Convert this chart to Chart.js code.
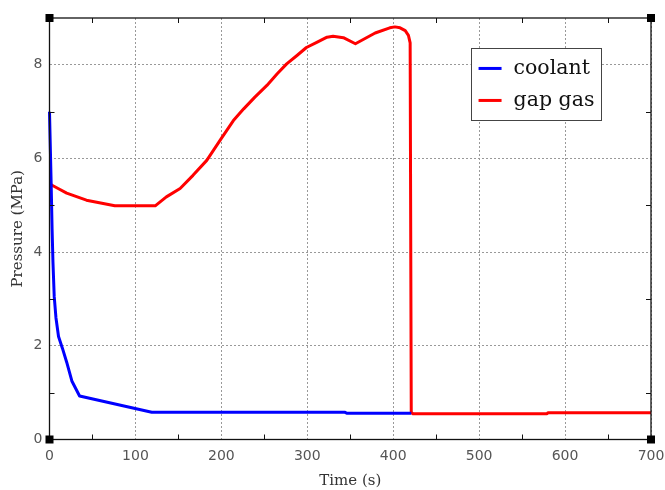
<!DOCTYPE html>
<html>
<head>
<meta charset="utf-8">
<script src="https://cdn.jsdelivr.net/npm/chart.js@4"></script>
<style>
html,body{margin:0;padding:0;background:#fff;}
#wrap{width:665px;height:490px;position:relative;}
</style>
</head>
<body>
<div id="wrap"><canvas id="c" width="665" height="490"></canvas></div>
<script>
// ---- data ----
const coolantLabel = "coolant";
const gapLabel = "gap gas";
const coolantTime = [0, 1, 2, 3, 4, 5.5, 7.5, 10.5, 15, 20, 26, 35, 119, 344, 346, 421];
const coolantPressure = [7.0, 6.2, 5.4, 4.5, 3.8, 3.05, 2.6, 2.2, 1.95, 1.65, 1.25, 0.93, 0.58, 0.58, 0.56, 0.56];
const gapTime = [0, 3, 10, 20, 43, 76, 123, 136, 152, 167, 183, 200, 214, 226, 239, 253, 265, 276, 288, 299, 311, 323, 330, 342, 356, 379, 396, 402, 408, 414, 417.7, 419.7, 421, 423, 579, 580, 700];
const gapPressure = [5.45, 5.43, 5.36, 5.26, 5.11, 4.99, 4.99, 5.18, 5.36, 5.64, 5.96, 6.43, 6.81, 7.06, 7.31, 7.56, 7.81, 8.02, 8.2, 8.37, 8.48, 8.59, 8.61, 8.58, 8.45, 8.68, 8.79, 8.81, 8.79, 8.73, 8.63, 8.47, 0.58, 0.55, 0.55, 0.57, 0.57];
const xTicks = [0, 100, 200, 300, 400, 500, 600, 700];
const yTicks = [0, 2, 4, 6, 8];
const xMinorTicks = [50, 150, 250, 350, 450, 550, 650];
const yMinorTicks = [1, 3, 5, 7];
const xRange = [0, 700];
const yRange = [0, 9];
const xTitle = "Time (s)";
const yTitle = "Pressure (MPa)";

const toPts = (xs, ys) => xs.map((x, i) => ({x: x, y: ys[i]}));

const framePlugin = {
  id: 'frame',
  afterDraw(chart) {
    const ctx = chart.ctx;
    const a = chart.chartArea;
    const xs = chart.scales.x, ys = chart.scales.y;
    ctx.save();
    ctx.strokeStyle = '#111';
    ctx.lineWidth = 1.3;
    ctx.strokeRect(a.left, a.top, a.right - a.left, a.bottom - a.top);
    // minor ticks, inward on all four sides
    const tl = 5;
    ctx.lineWidth = 1;
    ctx.beginPath();
    xMinorTicks.forEach(v => {
      const p = Math.round(xs.getPixelForValue(v)) + 0.5;
      ctx.moveTo(p, a.bottom); ctx.lineTo(p, a.bottom - tl);
      ctx.moveTo(p, a.top); ctx.lineTo(p, a.top + tl);
    });
    yMinorTicks.forEach(v => {
      const p = Math.round(ys.getPixelForValue(v)) + 0.5;
      ctx.moveTo(a.left, p); ctx.lineTo(a.left + tl, p);
      ctx.moveTo(a.right, p); ctx.lineTo(a.right - tl, p);
    });
    ctx.stroke();
    // corner squares
    ctx.fillStyle = '#000';
    const s = 8;
    [[a.left, a.top], [a.right, a.top], [a.left, a.bottom], [a.right, a.bottom]].forEach(([x, y]) => {
      ctx.fillRect(x - s / 2, y - s / 2, s, s);
    });
    // legend box
    const lx = xs.getPixelForValue(490), ly = ys.getPixelForValue(8.35);
    const bw = 130, bh = 72;
    ctx.fillStyle = '#fff';
    ctx.fillRect(lx, ly, bw, bh);
    ctx.strokeStyle = '#444';
    ctx.lineWidth = 1;
    ctx.strokeRect(Math.round(lx) + 0.5, Math.round(ly) + 0.5, bw, bh);
    ctx.font = '20.5px "DejaVu Serif"';
    ctx.textBaseline = 'middle';
    ctx.textAlign = 'left';
    chart.data.datasets.forEach((d, i) => {
      const yy = ly + 20 + i * 32;
      ctx.strokeStyle = d.borderColor;
      ctx.lineWidth = 3;
      ctx.beginPath();
      ctx.moveTo(lx + 8, yy); ctx.lineTo(lx + 31, yy);
      ctx.stroke();
      ctx.fillStyle = '#111';
      ctx.fillText(d.label, lx + 43, yy);
    });
    ctx.restore();
  }
};

new Chart(document.getElementById('c'), {
  type: 'line',
  data: {
    datasets: [
      {label: coolantLabel, data: toPts(coolantTime, coolantPressure), borderColor: '#0000ff', backgroundColor: '#0000ff', borderWidth: 3, pointRadius: 0, tension: 0, borderDash: [1000, 0], clip: 4, borderJoinStyle: 'round'},
      {label: gapLabel, data: toPts(gapTime, gapPressure), borderColor: '#ff0000', backgroundColor: '#ff0000', borderWidth: 3, pointRadius: 0, tension: 0, borderDash: [1000, 0], clip: 4, borderJoinStyle: 'round'}
    ]
  },
  options: {
    responsive: false,
    animation: false,
    parsing: false,
    layout: {padding: {top: 18, right: 14, left: 0, bottom: 0}},
    plugins: {legend: {display: false}, tooltip: {enabled: false}},
    scales: {
      x: {
        type: 'linear', min: xRange[0], max: xRange[1],
        afterBuildTicks: s => { s.ticks = xTicks.map(v => ({value: v})); },
        afterFit: s => { s.height = 50.5; s.paddingLeft = 0; s.paddingRight = 0; },
        grid: {color: '#999', lineWidth: 1, drawTicks: false},
        border: {display: false, dash: [2, 2]},
        ticks: {padding: 8, color: '#555', font: {family: 'DejaVu Sans', size: 14}, maxRotation: 0},
        title: {display: true, text: xTitle, color: '#333', font: {family: 'DejaVu Serif', size: 15}, padding: {top: 0, bottom: 0}}
      },
      y: {
        type: 'linear', min: yRange[0], max: yRange[1],
        afterBuildTicks: s => { s.ticks = yTicks.map(v => ({value: v})); },
        afterFit: s => { s.width = 49.5; s.paddingTop = 0; s.paddingBottom = 0; },
        grid: {color: '#999', lineWidth: 1, drawTicks: false},
        border: {display: false, dash: [2, 2]},
        ticks: {padding: 7, color: '#555', font: {family: 'DejaVu Sans', size: 14}},
        title: {display: true, text: yTitle, color: '#333', font: {family: 'DejaVu Serif', size: 15}, padding: {top: 9, bottom: 0}}
      }
    }
  },
  plugins: [framePlugin]
});
</script>
</body>
</html>
